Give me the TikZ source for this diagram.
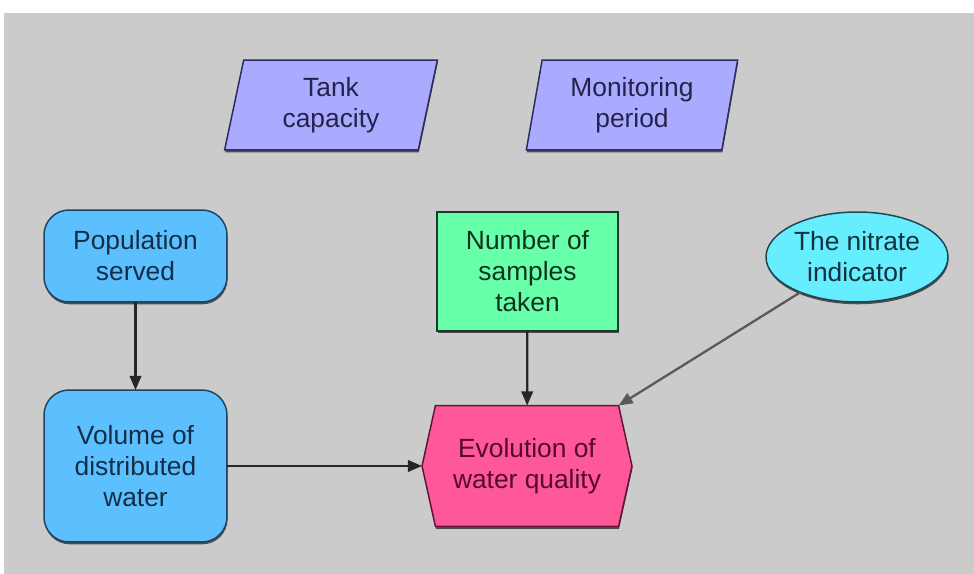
\documentclass[tikz,border=0pt]{standalone}
\usepackage{fontspec}
\setmainfont{Liberation Sans}
\usetikzlibrary{arrows.meta, positioning, shapes.geometric, shapes.symbols, shadows}

\definecolor{panelgray}{RGB}{203,203,203}
\definecolor{lavender}{RGB}{170,170,255}
\definecolor{lavenderline}{RGB}{45,45,95}
\definecolor{lavendertext}{RGB}{35,35,75}
\definecolor{skyfill}{RGB}{92,192,255}
\definecolor{skyline}{RGB}{30,70,100}
\definecolor{skytext}{RGB}{20,45,70}
\definecolor{mintfill}{RGB}{104,255,170}
\definecolor{mintline}{RGB}{25,60,40}
\definecolor{minttext}{RGB}{15,50,30}
\definecolor{cyanfill}{RGB}{102,238,255}
\definecolor{cyanline}{RGB}{30,70,85}
\definecolor{cyantext}{RGB}{15,50,60}
\definecolor{pinkfill}{RGB}{255,88,152}
\definecolor{pinkline}{RGB}{100,20,55}
\definecolor{pinktext}{RGB}{85,10,40}

\begin{document}
\begin{tikzpicture}[
    x=0.02cm, y=-0.02cm,
    >={Triangle[length=8pt, width=6.5pt]}, % filled arrowheads
    every node/.style={font=\fontsize{15}{17.6}\selectfont, align=center, line width=0.85pt, outer sep=0pt},
    % soft shadow under every box
    boxshadow/.style={drop shadow={shadow xshift=0.3pt, shadow yshift=-1.3pt, fill=black!75, opacity=0.9}},
    param box/.style={trapezium, trapezium left angle=80, trapezium right angle=100, trapezium stretches=true,
        draw=lavenderline, fill=lavender, text=lavendertext, minimum width=4.26cm, minimum height=1.8cm, boxshadow},
    state box/.style={draw=skyline, fill=skyfill, text=skytext, rounded corners=0.5cm,
        minimum width=3.66cm, boxshadow},
    count box/.style={rectangle, draw=mintline, fill=mintfill, text=minttext,
        minimum width=3.62cm, minimum height=2.38cm, boxshadow},
    indicator/.style={ellipse, draw=cyanline, fill=cyanfill, text=cyantext,
        minimum width=3.64cm, minimum height=1.8cm, inner sep=0pt, boxshadow},
    goal hex/.style={signal, signal to=west and east, signal pointer angle=155, draw=pinkline,
        fill=pinkfill, text=pinktext, minimum width=4.2cm, minimum height=2.42cm, boxshadow},
    link arrow/.style={->, line width=1.3pt, draw=black!85}
]

    % === Canvas ===
    \useasboundingbox (0,0) rectangle (974,574);
    \fill[white] (0,0) rectangle (974,574);
    \fill[panelgray] (4,13) rectangle (974,574);

    % === Parameters (top row) ===
    \node[param box] (tank) at (331,105) {Tank\\capacity};
    \node[param box] (period) at (632,105) {Monitoring\\period};

    % === Left column ===
    \node[state box, minimum height=1.84cm] (population) at (135.5,256) {Population\\served};
    \node[state box, minimum height=3.04cm] (volume) at (135.5,466) {Volume of\\distributed\\water};

    % === Middle and right ===
    \node[count box] (samples) at (527.5,271.5) {Number of\\samples\\taken};
    \node[indicator] (nitrate) at (857,257) {The nitrate\\indicator};
    \node[goal hex] (quality) at (527,466) {Evolution of\\water quality};

    % === Links ===
    \draw[link arrow] (population) -- (volume);
    \draw[link arrow] (volume) -- (quality);
    \draw[link arrow] (samples) -- (quality);
    \draw[link arrow, draw=black!65] (nitrate) -- (quality.north east);

\end{tikzpicture}
\end{document}
